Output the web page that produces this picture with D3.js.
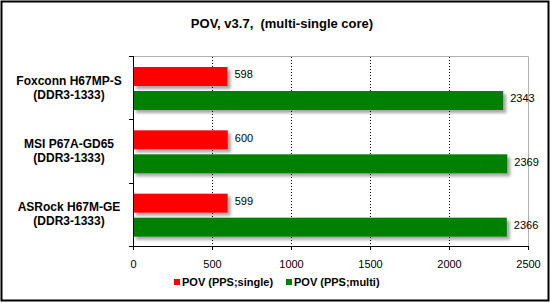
<!DOCTYPE html>
<html>
<head>
<meta charset="utf-8">
<script src="https://cdn.jsdelivr.net/npm/d3@7"></script>
<style>
  body { margin: 0; background: #fff; }
  svg { font-family: Arial, "Liberation Sans", sans-serif; }
</style>
</head>
<body>
<svg id="chart" width="550" height="303"></svg>
<script>
// chart data
const boards = ['Foxconn H67MP-S', 'MSI P67A-GD65', 'ASRock H67M-GE'];
const memory = ['(DDR3-1333)', '(DDR3-1333)', '(DDR3-1333)'];
const singleCore = [598, 600, 599];
const multiCore = [2343, 2369, 2366];
const seriesNames = ['POV (PPS;single)', 'POV (PPS;multi)'];
const xTicks = [0, 500, 1000, 1500, 2000, 2500];

const colors = ['#ff0000', '#008000'];
const margin = {top: 56, left: 133, right: 22, bottom: 57};
const width = 550, height = 303;
const plotW = width - margin.left - margin.right;
const plotH = height - margin.top - margin.bottom;

const svg = d3.select('#chart');

// outer frame
svg.append('rect')
    .attr('x', 1.5).attr('y', 1.5)
    .attr('width', 547).attr('height', 299)
    .attr('fill', 'none')
    .attr('stroke', '#000')
    .attr('stroke-width', 2);

svg.append('text')
    .attr('x', 282).attr('y', 28)
    .attr('text-anchor', 'middle')
    .attr('fill', '#000')
    .style('font-size', '13px')
    .style('font-weight', 'bold')
    .attr('xml:space', 'preserve')
    .text('POV, v3.7,  (multi-single core)');

const g = svg.append('g')
    .attr('transform', `translate(${margin.left},${margin.top})`);

const x = d3.scaleLinear().domain([0, 2500]).range([0, plotW]);
const y = d3.scaleBand().domain(boards).range([0, plotH]);

// plot border (gray top/right)
g.append('path')
    .attr('d', `M0,0.5H${plotW + 0.5}V${plotH}`)
    .attr('fill', 'none')
    .attr('stroke', '#b0b0b0');

// dotted gridlines
g.selectAll('.grid')
    .data(xTicks.slice(1, -1))
    .join('line')
    .attr('class', 'grid')
    .attr('x1', d => Math.round(x(d)) + 0.5)
    .attr('x2', d => Math.round(x(d)) + 0.5)
    .attr('y1', 1).attr('y2', plotH)
    .attr('stroke', '#000')
    .attr('stroke-dasharray', '1,2');

const series = [singleCore, multiCore];
const barH = 19;
const offsets = [11, 35];

const defs = svg.append('defs');
defs.append('filter')
    .attr('id', 'shadow')
    .attr('x', '-10%').attr('y', '-20%')
    .attr('width', '130%').attr('height', '180%')
    .append('feDropShadow')
    .attr('dx', 3).attr('dy', 3)
    .attr('stdDeviation', 1.5)
    .attr('flood-color', '#000')
    .attr('flood-opacity', 0.35);

series.forEach((vals, si) => {
  g.selectAll(`.bar${si}`)
      .data(vals)
      .join('rect')
      .attr('class', `bar${si}`)
      .attr('x', 0)
      .attr('y', (d, i) => y(boards[i]) + offsets[si])
      .attr('width', d => x(d))
      .attr('height', barH)
      .attr('fill', colors[si])
      .attr('filter', 'url(#shadow)');

  g.selectAll(`.val${si}`)
      .data(vals)
      .join('text')
      .attr('class', `val${si}`)
      .attr('x', d => x(d) + 7)
      .attr('y', (d, i) => y(boards[i]) + offsets[si] + barH / 2 - 2)
      .attr('dy', '0.35em')
      .attr('fill', '#000')
      .style('font-size', '11px')
      .text(d => d);
});

// axes
const xAxis = d3.axisBottom(x).tickValues(xTicks).tickFormat(d3.format('d'))
    .tickSize(4).tickSizeOuter(0);
const xAxisG = g.append('g')
    .attr('transform', `translate(0,${plotH})`)
    .call(xAxis);
xAxisG.select('.domain').attr('stroke', '#000');
xAxisG.selectAll('text')
    .style('font-size', '11px')
    .attr('y', 14)
    .attr('fill', '#000')
    .style('font-family', 'Arial, sans-serif');

const yAxisG = g.append('g');
yAxisG.append('line')
    .attr('x1', 0.5).attr('x2', 0.5)
    .attr('y1', 0).attr('y2', plotH + 4)
    .attr('stroke', '#000');
yAxisG.selectAll('.ytick')
    .data([0].concat(boards.map(b => y(b) + y.bandwidth())))
    .join('line')
    .attr('class', 'ytick')
    .attr('x1', -4).attr('x2', 0)
    .attr('y1', d => Math.round(d) + 0.5)
    .attr('y2', d => Math.round(d) + 0.5)
    .attr('stroke', '#000');

// category labels
boards.forEach((b, i) => {
  const t = svg.append('text')
      .attr('text-anchor', 'middle')
      .attr('fill', '#000')
      .style('font-size', '12px')
      .style('font-weight', 'bold');
  const cy = margin.top + y(b) + y.bandwidth() / 2;
  t.append('tspan').attr('x', 69).attr('y', cy - 3).text(b);
  t.append('tspan').attr('x', 69).attr('y', cy + 11).text(memory[i]);
});

// legend
const legendX = [174, 286];
seriesNames.forEach((name, i) => {
  svg.append('rect')
      .attr('x', legendX[i]).attr('y', 279)
      .attr('width', 6).attr('height', 6)
      .attr('fill', colors[i]);
  svg.append('text')
      .attr('x', legendX[i] + 8).attr('y', 286)
      .attr('fill', '#000')
      .style('font-size', '11px')
      .style('font-weight', 'bold')
      .text(name);
});
</script>
</body>
</html>
